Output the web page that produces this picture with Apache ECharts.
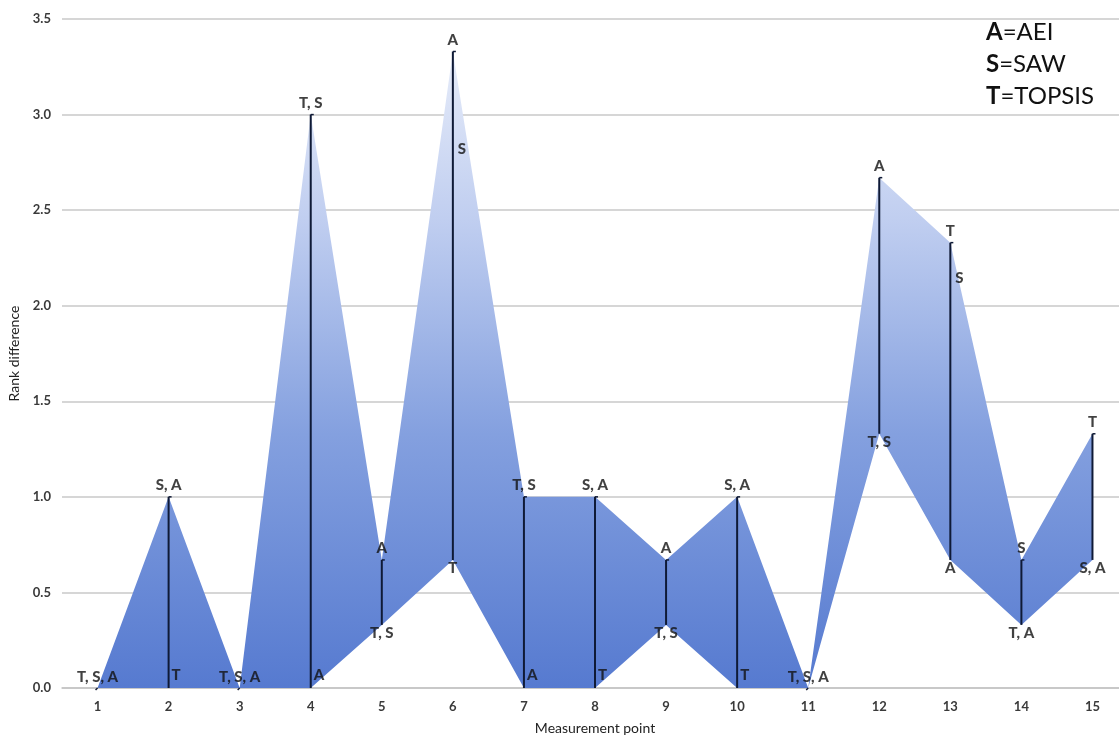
<!DOCTYPE html>
<html>
<head>
<meta charset="utf-8">
<title>Rank difference</title>
<script src="https://cdn.jsdelivr.net/npm/echarts@6/dist/echarts.min.js"></script>
<style>
  html, body { margin: 0; padding: 0; background: #fff; }
  #chart { width: 1119px; height: 736px; }
</style>
</head>
<body>
<div id="chart"></div>
<script>
// measurement points and rank difference for each method
var points = ['1', '2', '3', '4', '5', '6', '7', '8', '9', '10', '11', '12', '13', '14', '15'];
var topsis = [0, 0, 0, 3, 0.33, 0.67, 1, 0, 0.33, 0, 0, 1.33, 2.33, 0.33, 1.33];
var saw    = [0, 1, 0, 3, 0.33, 2.67, 1, 1, 0.33, 1, 0, 1.33, 2.0, 0.67, 0.67];
var aei    = [0, 1, 0, 0, 0.67, 3.33, 0, 1, 0.67, 1, 0, 2.67, 0.67, 0.33, 0.67];
var yTicks = [0, 0.5, 1, 1.5, 2, 2.5, 3, 3.5];

var methods = [
  { key: 'T', values: topsis },
  { key: 'S', values: saw },
  { key: 'A', values: aei }
];

var low = [], spread = [], ranges = [], labels = [];

for (var i = 0; i < points.length; i++) {
  var vals = [topsis[i], saw[i], aei[i]];
  var lo = Math.min.apply(null, vals);
  var hi = Math.max.apply(null, vals);
  low.push(lo);
  spread.push(+(hi - lo).toFixed(2));
  ranges.push([i, lo, hi]);

  // group methods that share the same value at this point
  var groups = [];
  methods.forEach(function (m) {
    var v = m.values[i];
    var g = groups.find(function (x) { return x.v === v; });
    if (g) g.keys.push(m.key); else groups.push({ v: v, keys: [m.key] });
  });

  groups.forEach(function (g) {
    var lbl;
    if (lo === hi) {
      lbl = { position: 'top', distance: 3 };
    } else if (g.v === hi) {
      lbl = { position: 'top', distance: 4 };
    } else if (g.v === lo) {
      lbl = lo === 0
        ? { position: 'right', distance: 3, offset: [0, -13] }
        : { position: 'bottom', distance: 1 };
    } else {
      lbl = { position: 'right', distance: 5, offset: [0, -28] };
    }
    lbl.formatter = g.keys.join(', ');
    labels.push({ value: [i, g.v], label: lbl });
  });
}

var chart = echarts.init(document.getElementById('chart'));

var fill = new echarts.graphic.LinearGradient(0, 19, 0, 688, [
  { offset: 0, color: '#eef2fb' },
  { offset: 0.3, color: '#c0cef0' },
  { offset: 0.62, color: '#84a0df' },
  { offset: 1, color: '#567ad0' }
], true);

var option = {
  animation: false,
  grid: { left: 62, top: 19, width: 1066, height: 669, outerBoundsMode: 'none', containLabel: false },
  xAxis: {
    type: 'category',
    data: points,
    boundaryGap: true,
    name: 'Measurement point',
    nameLocation: 'middle',
    nameGap: 33,
    nameTextStyle: { fontFamily: 'Lato', fontSize: 14, color: '#222' },
    axisLine: { lineStyle: { color: '#c4c4c4', width: 1.5 } },
    axisTick: { show: false },
    axisLabel: { fontFamily: 'Lato', fontWeight: 'bold', fontSize: 13, color: '#3a3a3a', margin: 12 }
  },
  yAxis: {
    type: 'value',
    min: 0,
    max: 3.5,
    interval: 0.5,
    name: 'Rank difference',
    nameLocation: 'middle',
    nameGap: 35,
    nameTextStyle: { fontFamily: 'Lato', fontSize: 14, color: '#222' },
    axisLine: { show: false },
    axisTick: { show: false },
    axisLabel: {
      fontFamily: 'Lato', fontWeight: 'bold', fontSize: 13, color: '#3a3a3a', margin: 11,
      formatter: function (v) { return yTicks.indexOf(v) >= 0 ? v.toFixed(1) : ''; }
    },
    splitLine: { lineStyle: { color: '#c8c8c8', width: 1.5 } }
  },
  series: [
    {
      name: 'low',
      type: 'line',
      stack: 'band',
      data: low,
      symbol: 'none',
      lineStyle: { opacity: 0 },
      silent: true
    },
    {
      name: 'band',
      type: 'line',
      stack: 'band',
      data: spread,
      symbol: 'none',
      lineStyle: { opacity: 0 },
      areaStyle: { color: fill, opacity: 1 },
      silent: true
    },
    {
      name: 'range',
      type: 'custom',
      data: ranges,
      z: 5,
      renderItem: function (params, api) {
        var bottom = api.coord([api.value(0), api.value(1)]);
        var top = api.coord([api.value(0), api.value(2)]);
        if (api.value(1) === api.value(2)) {
          return {
            type: 'line',
            shape: { x1: bottom[0] - 2, y1: bottom[1] + 2, x2: bottom[0], y2: bottom[1] },
            style: { stroke: '#111a33', lineWidth: 1.5 }
          };
        }
        return {
          type: 'group',
          children: [
            {
              type: 'line',
              shape: { x1: top[0], y1: top[1], x2: bottom[0], y2: bottom[1] },
              style: { stroke: '#0f1a36', lineWidth: 2 }
            },
            {
              type: 'line',
              shape: { x1: top[0], y1: top[1], x2: top[0] + 3, y2: top[1] },
              style: { stroke: '#0f1a36', lineWidth: 1.5 }
            }
          ]
        };
      }
    },
    {
      name: 'labels',
      type: 'scatter',
      data: labels,
      symbolSize: 0,
      z: 6,
      silent: true,
      label: {
        show: true,
        fontFamily: 'Lato',
        fontWeight: 900,
        fontSize: 15,
        color: '#111'
      }
    }
  ],
  graphic: [
    {
      type: 'text',
      left: 986,
      top: 16,
      style: {
        text: '{b|A}=AEI\n{b|S}=SAW\n{b|T}=TOPSIS',
        fontFamily: 'Lato',
        fontSize: 24,
        lineHeight: 32,
        fill: '#111',
        rich: {
          b: { fontFamily: 'Lato', fontWeight: 'bold', fontSize: 24, lineHeight: 32, fill: '#111' }
        }
      }
    }
  ]
};

chart.setOption(option);
</script>
</body>
</html>
